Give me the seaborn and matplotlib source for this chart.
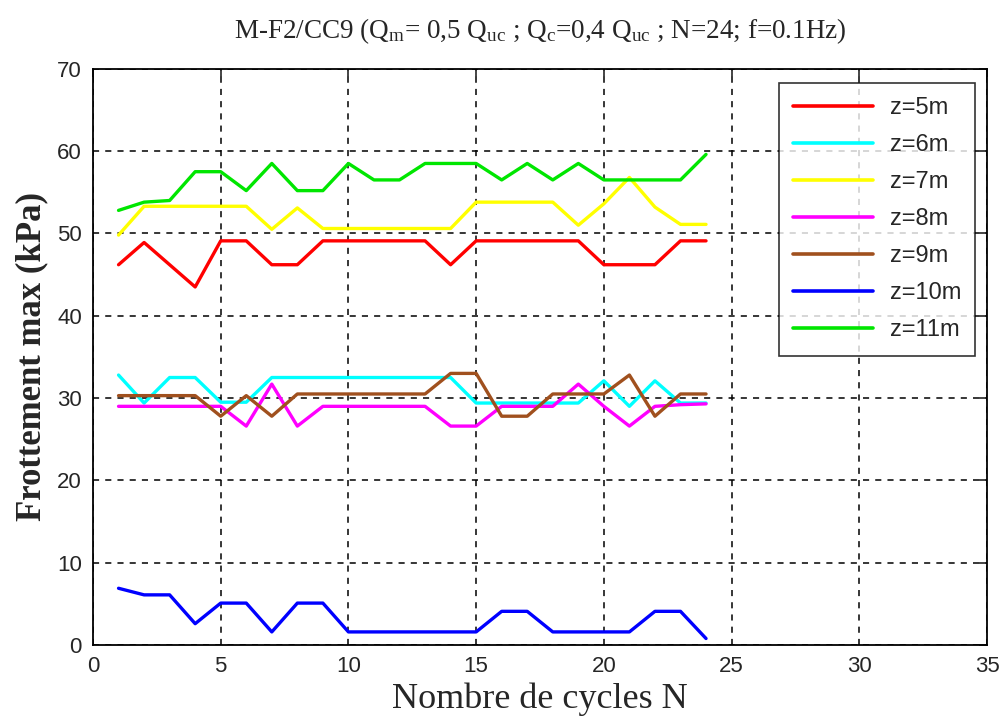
import numpy as np
import matplotlib
matplotlib.use('Agg')
import matplotlib.pyplot as plt
import seaborn as sns
import pandas as pd

# cycles
cycles = list(range(1, 25))

# frottement max (kPa) par profondeur
z5 = [46.2, 48.9, 46.2, 43.5, 49.1, 49.1, 46.2, 46.2, 49.1, 49.1, 49.1, 49.1,
      49.1, 46.2, 49.1, 49.1, 49.1, 49.1, 49.1, 46.2, 46.2, 46.2, 49.1, 49.1]
z6 = [32.8, 29.4, 32.5, 32.5, 29.5, 29.5, 32.5, 32.5, 32.5, 32.5, 32.5, 32.5,
      32.5, 32.5, 29.4, 29.4, 29.4, 29.4, 29.4, 32.1, 29.0, 32.1, 29.4, 29.4]
z7 = [49.8, 53.3, 53.3, 53.3, 53.3, 53.3, 50.5, 53.1, 50.6, 50.6, 50.6, 50.6,
      50.6, 50.6, 53.8, 53.8, 53.8, 53.8, 51.0, 53.6, 56.8, 53.2, 51.1, 51.1]
z8 = [29.0, 29.0, 29.0, 29.0, 29.0, 26.6, 31.7, 26.6, 29.0, 29.0, 29.0, 29.0,
      29.0, 26.6, 26.6, 29.0, 29.0, 29.0, 31.7, 29.0, 26.6, 29.0, 29.2, 29.3]
z9 = [30.3, 30.3, 30.3, 30.3, 27.8, 30.3, 27.8, 30.5, 30.5, 30.5, 30.5, 30.5,
      30.5, 33.0, 33.0, 27.8, 27.8, 30.5, 30.5, 30.5, 32.8, 27.8, 30.5, 30.5]
z10 = [6.9, 6.1, 6.1, 2.6, 5.1, 5.1, 1.6, 5.1, 5.1, 1.6, 1.6, 1.6,
       1.6, 1.6, 1.6, 4.1, 4.1, 1.6, 1.6, 1.6, 1.6, 4.1, 4.1, 0.8]
z11 = [52.8, 53.8, 54.0, 57.5, 57.5, 55.2, 58.5, 55.2, 55.2, 58.5, 56.5, 56.5,
       58.5, 58.5, 58.5, 56.5, 58.5, 56.5, 58.5, 56.5, 56.5, 56.5, 56.5, 59.6]

labels = ['z=5m', 'z=6m', 'z=7m', 'z=8m', 'z=9m', 'z=10m', 'z=11m']
series = [z5, z6, z7, z8, z9, z10, z11]
couleurs = ['#FF0000', '#00FFFF', '#FFFF00', '#FF00FF', '#A0501E', '#0000FF', '#00E600']

rows = []
for lab, vals in zip(labels, series):
    for n, v in zip(cycles, vals):
        rows.append({'N': n, 'frottement': v, 'z': lab})
df = pd.DataFrame(rows)

sns.set_style('white')
plt.rcParams['font.family'] = ['Liberation Sans', 'DejaVu Sans']
plt.rcParams['mathtext.fontset'] = 'custom'
plt.rcParams['mathtext.rm'] = 'Liberation Serif'
plt.rcParams['mathtext.it'] = 'Liberation Serif:italic'

fig = plt.figure(figsize=(10, 7.24), dpi=100)
ax = fig.add_axes([0.093, 0.109, 0.894, 0.796])

sns.lineplot(data=df, x='N', y='frottement', hue='z', palette=couleurs,
             linewidth=2.4, ax=ax)

ax.set_xlim(0, 35)
ax.set_ylim(0, 70)
ax.set_xticks(np.arange(0, 36, 5))
ax.set_yticks(np.arange(0, 71, 10))
ax.grid(True, color='black', linestyle=(0, (4, 4)), linewidth=1.1)
ax.tick_params(direction='in', top=True, right=True, length=6, width=1.2,
               labelsize=16, pad=8)
for s in ax.spines.values():
    s.set_color('black')
    s.set_linewidth(1.3)

ax.set_xlabel('Nombre de cycles N', fontsize=26, family='Liberation Serif',
              labelpad=4)
ax.set_ylabel('Frottement max (kPa)', fontsize=25, family='Liberation Serif',
              fontweight='bold', labelpad=6)
ax.set_title(r'M-F2/CC9 (Q$_{\rm m}$= 0,5 Q$_{\rm uc}$ ; Q$_{\rm c}$=0,4 Q$_{\rm uc}$ ; N=24; f=0.1Hz)',
             fontsize=19.5, family='Liberation Serif', pad=22)

leg = ax.legend(loc='upper right', bbox_to_anchor=(0.987, 0.976), borderaxespad=0,
                fontsize=17, frameon=True, fancybox=False, handlelength=3.4,
                labelspacing=0.64, borderpad=0.6, handletextpad=0.7)
leg.get_frame().set_edgecolor('black')
leg.get_frame().set_linewidth(1.2)
for line in leg.get_lines():
    line.set_linewidth(2.6)

plt.savefig('out.png', dpi=100)
